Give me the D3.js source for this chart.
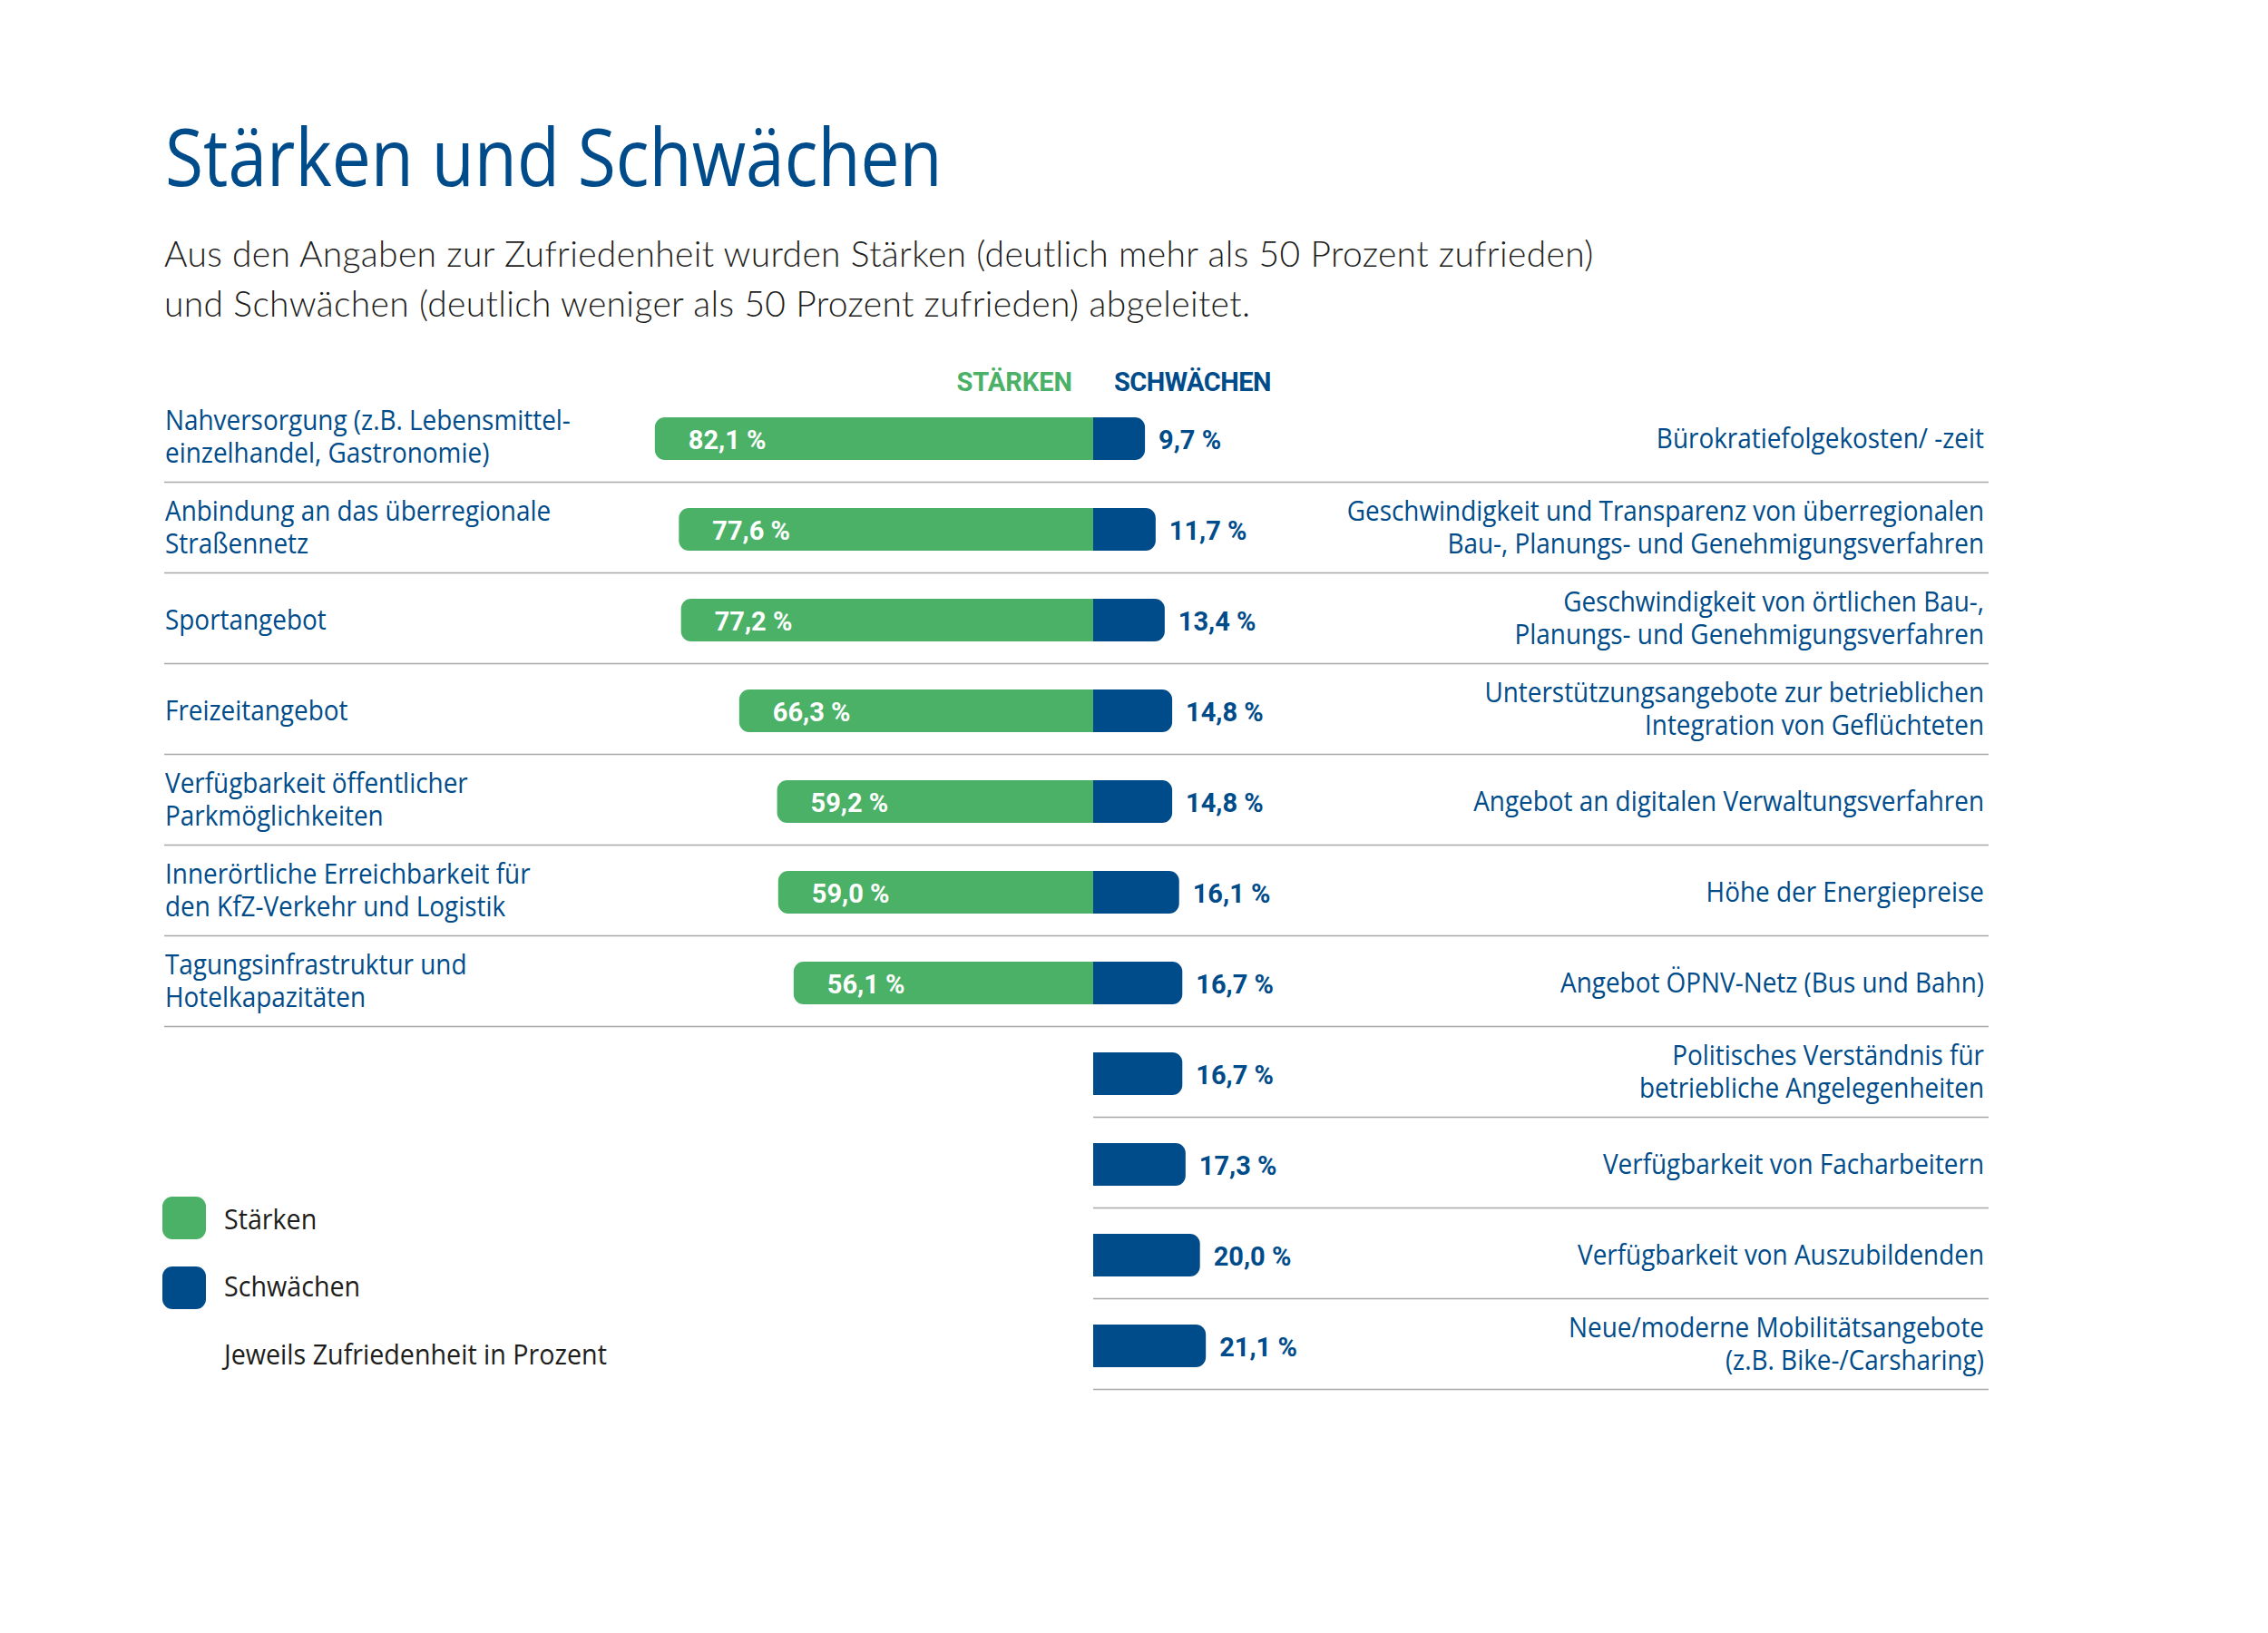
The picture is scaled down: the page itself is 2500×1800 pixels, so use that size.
<!DOCTYPE html>
<html>
<head>
<meta charset="utf-8">
<script src="https://cdn.jsdelivr.net/npm/d3@7/dist/d3.min.js"></script>
<style>
  html, body { margin: 0; padding: 0; background: #ffffff; }
  svg { display: block; }
</style>
</head>
<body>
<svg id="chart" width="2500" height="1800"></svg>
<script>
// ---------------- DATA ----------------
const strengthLabels = [
  ["Nahversorgung (z.B. Lebensmittel-", "einzelhandel, Gastronomie)"],
  ["Anbindung an das überregionale", "Straßennetz"],
  ["Sportangebot"],
  ["Freizeitangebot"],
  ["Verfügbarkeit öffentlicher", "Parkmöglichkeiten"],
  ["Innerörtliche Erreichbarkeit für", "den KfZ-Verkehr und Logistik"],
  ["Tagungsinfrastruktur und", "Hotelkapazitäten"]
];
const strengthValues = [82.1, 77.6, 77.2, 66.3, 59.2, 59.0, 56.1];

const weaknessLabels = [
  ["Bürokratiefolgekosten/ -zeit"],
  ["Geschwindigkeit und Transparenz von überregionalen", "Bau-, Planungs- und Genehmigungsverfahren"],
  ["Geschwindigkeit von örtlichen Bau-,", "Planungs- und Genehmigungsverfahren"],
  ["Unterstützungsangebote zur betrieblichen", "Integration von Geflüchteten"],
  ["Angebot an digitalen Verwaltungsverfahren"],
  ["Höhe der Energiepreise"],
  ["Angebot ÖPNV-Netz (Bus und Bahn)"],
  ["Politisches Verständnis für", "betriebliche Angelegenheiten"],
  ["Verfügbarkeit von Facharbeitern"],
  ["Verfügbarkeit von Auszubildenden"],
  ["Neue/moderne Mobilitätsangebote", "(z.B. Bike-/Carsharing)"]
];
const weaknessValues = [9.7, 11.7, 13.4, 14.8, 14.8, 16.1, 16.7, 16.7, 17.3, 20.0, 21.1];

const titleText = "Stärken und Schwächen";
const subtitleLines = [
  "Aus den Angaben zur Zufriedenheit wurden Stärken (deutlich mehr als 50 Prozent zufrieden)",
  "und Schwächen (deutlich weniger als 50 Prozent zufrieden) abgeleitet."
];
const headerLabels = ["STÄRKEN", "SCHWÄCHEN"];
const legendLabels = ["Stärken", "Schwächen"];
const legendNote = "Jeweils Zufriedenheit in Prozent";

// ---------------- STYLE ----------------
const GREEN = "#4bb167";
const BLUE = "#004c8a";
const DARK = "#1d1d1b";
const RULE = "#a9a9a9";
const HUMAN = "'Open Sans', 'Noto Sans', sans-serif";
const BOLDF = "Roboto, 'Open Sans', sans-serif";
const GEO = "Lato, 'Noto Sans', sans-serif";
const SQUEEZE = 0.9;

const svg = d3.select("#chart");

// scales
const centerX = 1205;
const x = d3.scaleLinear().domain([0, 100]).range([0, 588.5]);
const rowIdx = d3.range(weaknessValues.length);
const y = d3.scaleBand().domain(rowIdx).range([431.5, 431.5 + 100 * rowIdx.length]).padding(0);
const barH = 47;
const barOff = 28.5;
const R = 11;
const fmt = v => d3.format(".1f")(v).replace(".", ",") + " %";

// path helpers
function leftRounded(x0, x1, yt, h, r) {
  const p = d3.path();
  p.moveTo(x1, yt);
  p.lineTo(x0 + r, yt);
  p.arcTo(x0, yt, x0, yt + r, r);
  p.lineTo(x0, yt + h - r);
  p.arcTo(x0, yt + h, x0 + r, yt + h, r);
  p.lineTo(x1, yt + h);
  p.closePath();
  return p.toString();
}
function rightRounded(x0, x1, yt, h, r) {
  const p = d3.path();
  p.moveTo(x0, yt);
  p.lineTo(x1 - r, yt);
  p.arcTo(x1, yt, x1, yt + r, r);
  p.lineTo(x1, yt + h - r);
  p.arcTo(x1, yt + h, x1 - r, yt + h, r);
  p.lineTo(x0, yt + h);
  p.closePath();
  return p.toString();
}

// ---------------- TITLE ----------------
svg.append("g").attr("transform", "translate(182,205) scale(0.872,1)")
  .append("text")
  .attr("x", 0).attr("y", 0)
  .attr("font-family", HUMAN)
  .attr("font-size", 88)
  .attr("fill", BLUE)
  .text(titleText);

svg.append("g").selectAll("text").data(subtitleLines).join("text")
  .attr("x", 181)
  .attr("y", (d, i) => 294 + i * 55)
  .attr("font-family", GEO)
  .attr("font-weight", 300)
  .attr("font-size", 39)
  .attr("letter-spacing", 0.35)
  .attr("fill", DARK)
  .text(d => d);

// headers
svg.append("text")
  .attr("x", 1182).attr("y", 431)
  .attr("text-anchor", "end")
  .attr("font-family", BOLDF).attr("font-weight", "bold")
  .attr("font-size", 29)
  .attr("fill", GREEN).text(headerLabels[0]);
svg.append("text")
  .attr("x", 1228).attr("y", 431)
  .attr("font-family", BOLDF).attr("font-weight", "bold")
  .attr("font-size", 29).attr("letter-spacing", -0.5)
  .attr("fill", BLUE).text(headerLabels[1]);

// ---------------- DIVIDERS ----------------
svg.append("g").selectAll("line").data(rowIdx).join("line")
  .attr("x1", i => i < strengthValues.length ? 181 : centerX)
  .attr("x2", 2192)
  .attr("y1", i => y(i) + y.bandwidth())
  .attr("y2", i => y(i) + y.bandwidth())
  .attr("stroke", RULE)
  .attr("stroke-width", 1.6);

// ---------------- BARS ----------------
const gS = svg.append("g");
gS.selectAll("path").data(strengthValues).join("path")
  .attr("d", (v, i) => leftRounded(centerX - x(v), centerX, y(i) + barOff, barH, R))
  .attr("fill", GREEN);
gS.selectAll("text.val").data(strengthValues).join("text")
  .attr("class", "val")
  .attr("x", (v) => centerX - x(v) + 37)
  .attr("y", (v, i) => y(i) + barOff + barH / 2 + 11)
  .attr("font-family", BOLDF).attr("font-weight", "bold")
  .attr("font-size", 29).attr("fill", "#ffffff")
  .text(v => fmt(v));

const gW = svg.append("g");
gW.selectAll("path").data(weaknessValues).join("path")
  .attr("d", (v, i) => rightRounded(centerX, centerX + x(v), y(i) + barOff, barH, R))
  .attr("fill", BLUE);
gW.selectAll("text.val").data(weaknessValues).join("text")
  .attr("class", "val")
  .attr("x", v => centerX + x(v) + 15)
  .attr("y", (v, i) => y(i) + barOff + barH / 2 + 11)
  .attr("font-family", BOLDF).attr("font-weight", "bold")
  .attr("font-size", 29).attr("fill", BLUE)
  .text(v => fmt(v));

// ---------------- CATEGORY LABELS ----------------
function multiLine(sel, lines, cy) {
  if (lines.length === 1) {
    sel.append("tspan").attr("x", 0).attr("y", cy + 11).text(lines[0]);
  } else {
    lines.forEach((l, k) => {
      sel.append("tspan").attr("x", 0).attr("y", cy - 9 + k * 36).text(l);
    });
  }
}
const gL = svg.append("g").attr("transform", `translate(182,0) scale(${SQUEEZE},1)`);
strengthLabels.forEach((lines, i) => {
  const t = gL.append("text")
    .attr("font-family", HUMAN).attr("font-size", 31)
    .attr("fill", BLUE);
  multiLine(t, lines, y(i) + barOff + barH / 2);
});
const gR = svg.append("g").attr("transform", `translate(2187,0) scale(${SQUEEZE},1)`);
weaknessLabels.forEach((lines, i) => {
  const t = gR.append("text")
    .attr("text-anchor", "end")
    .attr("font-family", HUMAN).attr("font-size", 31)
    .attr("fill", BLUE);
  multiLine(t, lines, y(i) + barOff + barH / 2);
});

// ---------------- LEGEND ----------------
const legendColors = [GREEN, BLUE];
const gLeg = svg.append("g");
gLeg.selectAll("rect").data(legendLabels).join("rect")
  .attr("x", 179).attr("y", (d, i) => 1319 + i * 77)
  .attr("width", 48).attr("height", 47).attr("rx", 11)
  .attr("fill", (d, i) => legendColors[i]);
gLeg.append("g").attr("transform", `translate(247,0) scale(0.91,1)`)
  .selectAll("text").data(legendLabels.concat([legendNote])).join("text")
  .attr("x", 0).attr("y", (d, i) => 1355 + i * 74.5)
  .attr("font-family", HUMAN).attr("font-size", 31.5)
  .attr("fill", DARK)
  .text(d => d);
</script>
</body>
</html>
